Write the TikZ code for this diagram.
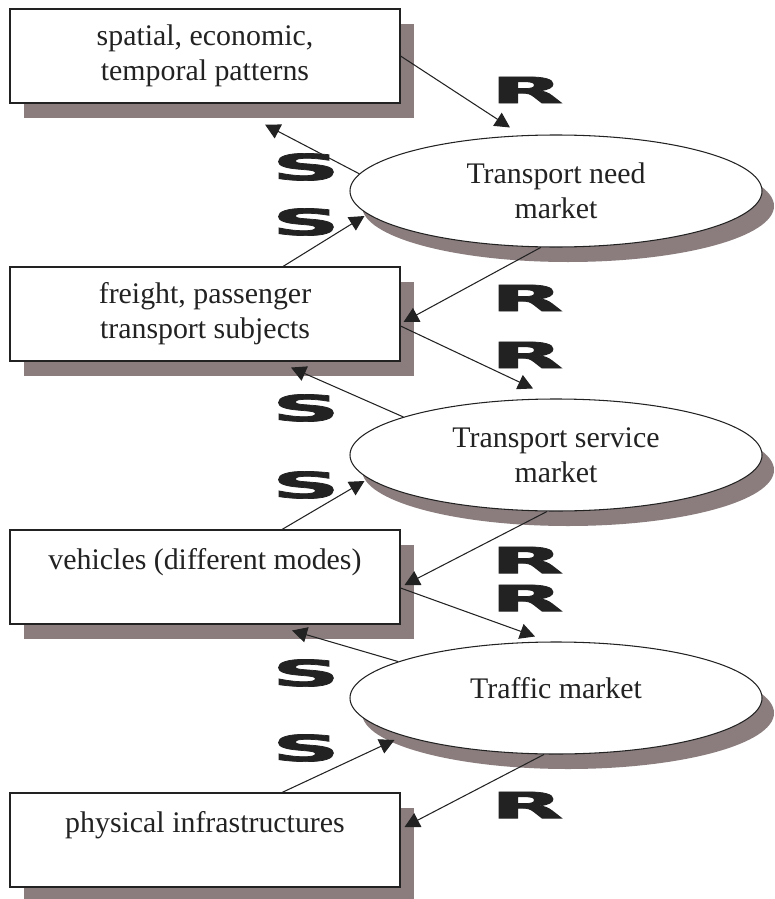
\documentclass[tikz,border=0pt]{standalone}
\usepackage{fontspec}
\usepackage{graphicx}
\setmainfont{Liberation Serif}
\newfontfamily\tagfont[BoldFeatures={FakeBold=2}]{DejaVu Sans}
\usepackage{tikz}
\usetikzlibrary{arrows.meta,positioning,calc,shapes.geometric,shadows}
\definecolor{ink}{HTML}{222222}
\definecolor{shade}{HTML}{8B7D7E}
\newcommand{\wideletter}[1]{\scalebox{2.6}[1]{#1}}
\tikzset{
  >={Triangle[length=3mm,width=3.1mm]},
  flow/.style={->,draw=ink,line width=.6pt},
  agent/.style={rectangle,draw=ink,fill=white,line width=.6pt,minimum width=78mm,
                minimum height=18.8mm,inner sep=0pt,align=center,text=ink,
                drop shadow={shadow xshift=2.8mm,shadow yshift=-3mm,fill=shade,opacity=1}},
  market/.style={ellipse,draw=ink,fill=white,line width=.6pt,minimum width=82.4mm,
                 minimum height=22.4mm,inner sep=0pt,align=center,text=ink,
                 drop shadow={shadow xshift=2.4mm,shadow yshift=-3mm,fill=shade,opacity=1}},
  lettertag/.style={font=\tagfont\bfseries\fontsize{20.5}{22}\selectfont,text=ink,inner sep=0pt},
}
\begin{document}
\begin{tikzpicture}[x=0.2mm,y=-0.2mm,font=\fontsize{17}{20}\selectfont]
  \useasboundingbox (0,0) rectangle (774,899);

  \node[agent] (patterns) at (205,56) {spatial, economic,\\temporal patterns};
  \node[agent] (subjects) at (205,314) {freight, passenger\\transport subjects};
  \node[agent] (vehicles) at (205,577) {vehicles (different modes)\\\mbox{}};
  \node[agent] (infra) at (205,840) {physical infrastructures\\\mbox{}};

  \node[market] (need) at (556,191) {Transport need\\market};
  \node[market] (service) at (556,455) {Transport service\\market};
  \node[market] (traffic) at (556,698) {Traffic market\\[-3mm]\mbox{}};

  \draw[flow] (patterns.east) -- ($(need.north)+(-46,-7)$);
  \draw[flow] (need.175) -- ($(patterns.south)+(60,21)$);
  \draw[flow] ($(subjects.north)+(78,0)$) -- ($(need.west)+(15,25)$);
  \draw[flow] (need.255) -- ($(subjects.east)+(3,8)$);
  \draw[flow] ($(subjects.east)+(0,12)$) -- ($(service.north)+(-23,-10)$);
  \draw[flow] (service.166) -- ($(subjects.south)+(86,6)$);
  \draw[flow] ($(vehicles.north)+(77,0)$) -- ($(service.west)+(15,26)$);
  \draw[flow] (service.261) -- ($(vehicles.east)+(4,8)$);
  \draw[flow] ($(vehicles.east)+(0,11)$) -- ($(traffic.north)+(-21,-5)$);
  \draw[flow] (traffic.167) -- ($(vehicles.south)+(87,6)$);
  \draw[flow] ($(infra.north)+(77,0)$) -- ($(traffic.west)+(45,42)$);
  \draw[flow] (traffic.258) -- ($(infra.east)+(4,-13)$);

  \node[lettertag] (r1) at (527,90) {\wideletter{R}};
  \node[lettertag] (r2) at (527,298) {\wideletter{R}};
  \node[lettertag] (r3) at (527,355) {\wideletter{R}};
  \node[lettertag] (r4) at (527,560) {\wideletter{R}};
  \node[lettertag] (r5) at (527,598) {\wideletter{R}};
  \node[lettertag] (r6) at (527,805) {\wideletter{R}};
  \node[lettertag] (s1) at (306,167) {\wideletter{S}};
  \node[lettertag] (s2) at (306,222) {\wideletter{S}};
  \node[lettertag] (s3) at (306,408) {\wideletter{S}};
  \node[lettertag] (s4) at (306,485) {\wideletter{S}};
  \node[lettertag] (s5) at (306,673) {\wideletter{S}};
  \node[lettertag] (s6) at (306,748) {\wideletter{S}};
\end{tikzpicture}
\end{document}
